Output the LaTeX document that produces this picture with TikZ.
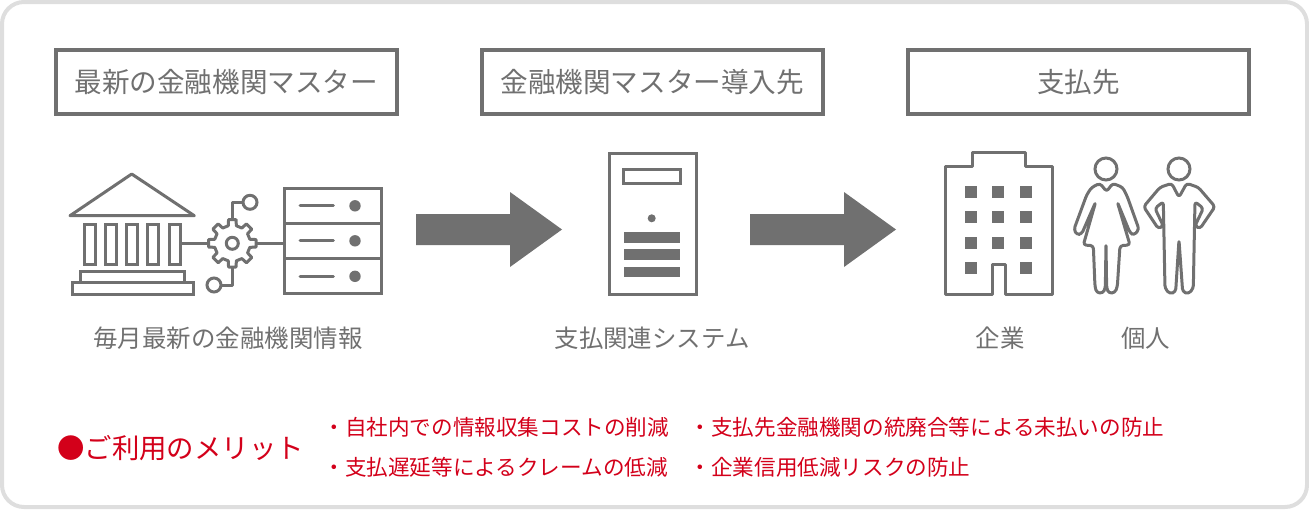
\documentclass[tikz,border=0pt]{standalone}
\usepackage{fontspec}
\setmainfont{Noto Sans CJK JP}
\definecolor{icongray}{HTML}{707070}
\definecolor{framegray}{HTML}{DEDEDE}
\definecolor{meritred}{HTML}{D3001A}
\tikzset{
	headbox/.style={shape=rectangle,draw=icongray,line width=4pt,minimum width=341pt,minimum height=64pt,inner sep=0pt,outer sep=0pt,text=icongray,font=\fontsize{27.6}{30}\selectfont},
	caption/.style={text=icongray,inner sep=0pt,font=\fontsize{24.45}{28}\selectfont},
	meritline/.style={text=meritred,inner sep=0pt,anchor=west,font=\fontsize{21.6}{25}\selectfont},
	iconline/.style={draw=icongray,line width=3pt,line join=round},
	thinbox/.style={shape=rectangle,draw=icongray,line width=3pt,inner sep=0pt,outer sep=0pt},
	ringdot/.style={shape=circle,draw=icongray,line width=3pt,minimum size=14pt,inner sep=0pt,outer sep=0pt},
	solid dot/.style={shape=circle,fill=icongray,inner sep=0pt,outer sep=0pt},
	bigarrow/.style={fill=icongray,draw=none},
}
\begin{document}
\begin{tikzpicture}[x=1pt,y=-1pt]
	\useasboundingbox (0,0) rectangle (1309,509);
	\draw[framegray,line width=4pt,rounded corners=22pt] (2,2) rectangle (1307,507);
	% headers
	\node[headbox](headA) at (226.2,82){最新の金融機関マスター};
	\node[headbox](headB) at (652.2,82){金融機関マスター導入先};
	\node[headbox](headC) at (1078.4,82){支払先};
	% bank
	\draw[iconline] (131.7,174) -- (194.3,215.7) -- (70,215.7) -- cycle;
	\foreach \cx/\cn in {89.5/1,110.8/2,132/3,153.3/4,174.7/5}
		\node[thinbox,minimum width=11pt,minimum height=40pt](col\cn) at (\cx,244){};
	\node[thinbox,minimum width=104pt,minimum height=11pt](baseA) at (132.2,277.2){};
	\node[thinbox,minimum width=121pt,minimum height=11.6pt](baseB) at (132.8,288.5){};
	% gear
	\begin{scope}[shift={(232.3,243.3)},x=1pt,y=1pt]
		\draw[iconline] (-13:18) -- (-9:24) -- (9:24) -- (13:18)
			\foreach \a in {45,90,...,315}{ -- (\a-13:18) -- (\a-9:24) -- (\a+9:24) -- (\a+13:18)} -- cycle;
	\end{scope}
	\node[ringdot,minimum size=12pt](hub) at (232.3,243.3){};
	\coordinate (gearL) at (208.3,243.3);
	\coordinate (gearR) at (256.3,243.3);
	\coordinate (gearT) at (232.3,219.3);
	\coordinate (gearB) at (232.3,267.3);
	\node[ringdot](ringT) at (250,202.3){};
	\node[ringdot](ringB) at (214,285){};
	% server
	\foreach \sy/\sn in {205.8/1,240.8/2,276.3/3}{
		\node[thinbox,minimum width=96.7pt,minimum height=35pt](srv\sn) at (332.7,\sy){};
		\coordinate (dash\sn a) at (300,\sy);
		\coordinate (dash\sn b) at (333.3,\sy);
		\draw[iconline,line cap=round] (dash\sn a) -- (dash\sn b);
		\node[solid dot,minimum size=11.4pt](lamp\sn) at (355,\sy){};
	}
	\coordinate (srvIn) at (284.3,243.3);
	\coordinate (colOut) at (180.7,243.3);
	\draw[iconline] (colOut) -- (gearL);
	\draw[iconline] (gearR) -- (srvIn);
	\draw[iconline] (gearT) |- (ringT);
	\draw[iconline] (gearB) |- (ringB);
	% arrows
	\foreach \ax in {416,750}
		\fill[bigarrow] (\ax,214) -- (\ax+94,214) -- (\ax+94,192) -- (\ax+146,229.5) -- (\ax+94,267) -- (\ax+94,245) -- (\ax,245) -- cycle;
	% tower
	\node[thinbox,minimum width=86.7pt,minimum height=141pt](tower) at (652.7,223.8){};
	\node[thinbox,minimum width=57.4pt,minimum height=14.4pt](slot) at (652,176.2){};
	\node[solid dot,minimum size=8pt](towerdot) at (651.7,218.3){};
	\foreach \by/\bn in {237.3/1,254.7/2,272/3}
		\node[shape=rectangle,fill=icongray,minimum width=56.6pt,minimum height=10.7pt,inner sep=0pt](bar\bn) at (652,\by){};
	% building
	\draw[iconline] (945,166.7) -- (972.3,166.7) -- (972.3,152.7) -- (1025.7,152.7) -- (1025.7,166.7) -- (1052.3,166.7) -- (1052.3,294.3) -- (1005.7,294.3) -- (1005.7,264.3) -- (992.3,264.3) -- (992.3,294.3) -- (945,294.3) -- cycle;
	\foreach \wx in {970.7,998.3,1026.3}
		\foreach \wy in {192.2,217.3,242.9}
			\fill[icongray] (\wx-6,\wy-6.1) rectangle (\wx+6,\wy+6.1);
	\foreach \wx in {970.7,1026.3}
		\fill[icongray] (\wx-6,261.7) rectangle (\wx+6,274);
	% people
	\begin{scope}[shift={(930,140)},x=0.3333pt,y=-0.3333pt]
		\node[ringdot,minimum size=22pt](headW) at (528,87){};
		\node[ringdot,minimum size=22pt](headM) at (747,87){};
		\draw[iconline,rounded corners=3pt] (510,130) -- (530,155) -- (548,130) -- (578,142) -- (592,170) -- (627,268) -- (612,286) -- (600,278) -- (562,186) -- (600,315) -- (570,317) -- (562,440) -- (555,458) -- (537,460) -- (530,445) -- (528,312) -- (526,445) -- (518,460) -- (500,458) -- (495,440) -- (490,317) -- (460,315) -- (497,186) -- (455,282) -- (440,284) -- (432,268) -- (470,165) -- (485,142) -- cycle;
		\draw[iconline,rounded corners=3pt] (725,130) -- (747,172) -- (770,130) -- (805,142) -- (855,200) -- (810,266) -- (795,258) -- (820,205) -- (795,185) -- (790,445) -- (775,462) -- (758,455) -- (747,300) -- (737,455) -- (720,462) -- (705,445) -- (700,185) -- (675,205) -- (700,258) -- (685,266) -- (641,200) -- (690,142) -- cycle;
	\end{scope}
	% captions
	\node[caption](capA) at (228,338){毎月最新の金融機関情報};
	\node[caption](capB) at (652,338){支払関連システム};
	\node[caption](capC) at (1000,338){企業};
	\node[caption](capD) at (1145.5,338){個人};
	% merit
	\node[text=meritred,inner sep=0pt,font=\fontsize{27.4}{30}\selectfont](merit) at (180.5,448){●ご利用のメリット};
	\node[meritline](lineA) at (323.3,427){・自社内での情報収集コストの削減};
	\node[meritline](lineB) at (323.3,467){・支払遅延等によるクレームの低減};
	\node[meritline](lineC) at (689.5,427){・支払先金融機関の統廃合等による未払いの防止};
	\node[meritline](lineD) at (689.5,467){・企業信用低減リスクの防止};
\end{tikzpicture}
\end{document}
